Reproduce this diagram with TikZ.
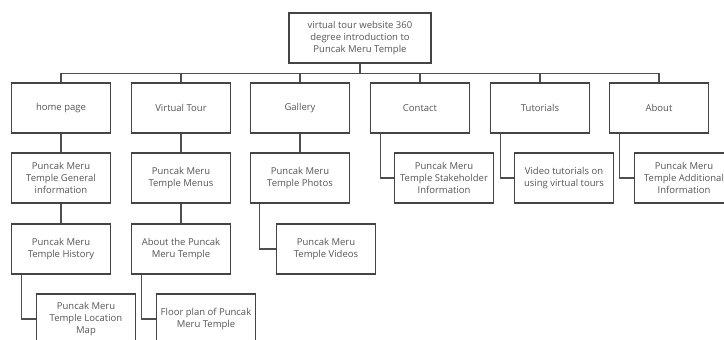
\documentclass[tikz,border=0pt]{standalone}
\usepackage{fontspec}
\setmainfont{Open Sans}
\definecolor{boxline}{HTML}{444444}
\definecolor{txt}{HTML}{555555}
\definecolor{conn}{HTML}{4E4E4E}
\begin{document}
\begin{tikzpicture}[x=1pt,y=-1pt,
  box/.style={draw=boxline,line width=1.5pt,rectangle,minimum width=99pt,minimum height=50pt,
    inner sep=1pt,align=center,text=txt,font=\fontsize{9.5}{12.4}\selectfont},
  link/.style={draw=conn,line width=1.4pt}]
\useasboundingbox (0,0) rectangle (724,340);
\clip (0,0) rectangle (724,340);
\fill[white] (0,0) rectangle (724,340);
% root
\node[box,minimum width=142pt] (root) at (360,38) {virtual tour website 360\\degree introduction to\\Puncak Meru Temple};
% level 1
\node[box] (home) at (61,108) {home page};
\node[box] (vt) at (181,108) {Virtual Tour};
\node[box] (gal) at (300,108) {Gallery};
\node[box] (con) at (420,108) {Contact};
\node[box] (tut) at (540,108) {Tutorials};
\node[box] (abt) at (659,108) {About};
% level 2
\node[box] (homeA) at (61,178) {Puncak Meru\\Temple General\\information};
\node[box] (vtA) at (181,178) {Puncak Meru\\Temple Menus};
\node[box] (galA) at (300,178) {Puncak Meru\\Temple Photos};
\node[box] (conA) at (444,178) {Puncak Meru\\Temple Stakeholder\\Information};
\node[box] (tutA) at (564,178) {Video tutorials on\\using virtual tours};
\node[box] (abtA) at (684,178) {Puncak Meru\\Temple Additional\\Information};
% level 3
\node[box] (homeB) at (61,249) {Puncak Meru\\Temple History};
\node[box] (vtB) at (181,249) {About the Puncak\\Meru Temple};
\node[box] (galB) at (326,249) {Puncak Meru\\Temple Videos};
% level 4
\node[box] (homeC) at (86,319) {Puncak Meru\\Temple Location\\Map};
\node[box] (vtC) at (206,319) {Floor plan of Puncak\\Meru Temple};
% connectors
\foreach \n in {home,vt,gal,con,tut,abt}
  \draw[link] (root.south) -- ++(0,10) -| (\n.north);
\draw[link] (home) -- (homeA);
\draw[link] (vt) -- (vtA);
\draw[link] (gal) -- (galA);
\draw[link] (con.south west) ++(11,0) |- (conA.west);
\draw[link] (tut.south west) ++(11,0) |- (tutA.west);
\draw[link] (abt.south west) ++(11,0) |- (abtA.west);
\draw[link] (homeA) -- (homeB);
\draw[link] (vtA) -- (vtB);
\draw[link] (galA.south west) ++(10,0) |- (galB.west);
\draw[link] (homeB.south west) ++(11,0) |- (homeC.west);
\draw[link] (vtB.south west) ++(11,0) |- (vtC.west);
\end{tikzpicture}
\end{document}
